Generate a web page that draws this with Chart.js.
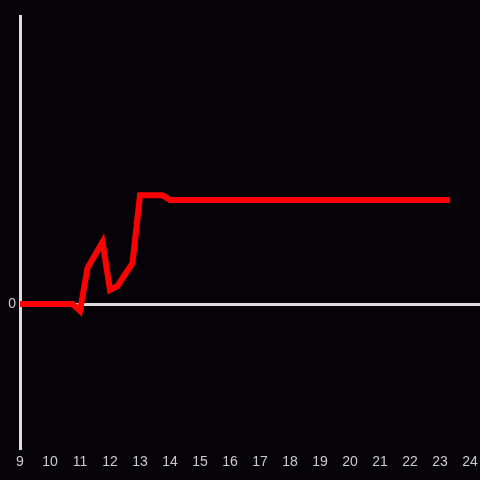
<!DOCTYPE html>
<html>
<head>
<meta charset="utf-8">
<script src="https://cdn.jsdelivr.net/npm/chart.js@4"></script>
<style>
html,body{margin:0;padding:0;background:#050307;}
#wrap{width:480px;height:480px;position:relative;}
</style>
</head>
<body>
<div id="wrap"><canvas id="c" width="480" height="480"></canvas></div>
<script>
const hours = [9, 10.75, 11.0, 11.25, 11.75, 12.0, 12.25, 12.75, 13.0, 13.75, 14.0, 15, 16, 17, 18, 19, 20, 21, 22, 23, 23.33];
const values = [0, 0, -2.4, 12.5, 21.5, 4.9, 6.3, 14.2, 37.8, 37.8, 36.1, 36.1, 36.1, 36.1, 36.1, 36.1, 36.1, 36.1, 36.1, 36.1, 36.1];
const xTickLabels = [9,10,11,12,13,14,15,16,17,18,19,20,21,22,23,24];
const yTickLabels = [0];

const bg = {
  id: 'bg',
  beforeDraw(chart) {
    const c = chart.ctx;
    c.save();
    c.fillStyle = '#050307';
    c.fillRect(0, 0, chart.width, chart.height);
    c.restore();
  }
};

new Chart(document.getElementById('c'), {
  type: 'line',
  data: {
    datasets: [{
      data: hours.map((h, i) => ({x: h, y: values[i]})),
      borderColor: '#ff0000',
      borderWidth: 6,
      pointRadius: 0,
      tension: 0,
      fill: false
    }]
  },
  options: {
    responsive: false,
    animation: false,
    layout: {padding: {top: 16, right: 0, left: 0, bottom: 0}},
    plugins: {legend: {display: false}, tooltip: {enabled: false}},
    scales: {
      x: {
        type: 'linear',
        min: 9,
        max: 24 + 1/3,
        afterBuildTicks(axis) { axis.ticks = xTickLabels.map(v => ({value: v})); },
        afterFit(axis) { axis.height = 32; axis.paddingLeft = 0; axis.paddingRight = 0; },
        grid: {display: false, drawTicks: false},
        border: {display: false},
        ticks: {color: '#cccccc', font: {size: 14, family: 'Liberation Sans, Arial, sans-serif'}, padding: 6, maxRotation: 0, autoSkip: false}
      },
      y: {
        min: -50,
        max: 100,
        afterBuildTicks(axis) { axis.ticks = yTickLabels.map(v => ({value: v})); },
        afterFit(axis) { axis.width = 20; axis.paddingTop = 0; axis.paddingBottom = 0; },
        grid: {color: '#dddddd', lineWidth: 3, drawTicks: false},
        border: {display: true, color: '#dddddd', width: 3},
        ticks: {color: '#cccccc', font: {size: 14, family: 'Liberation Sans, Arial, sans-serif'}, padding: 4}
      }
    }
  },
  plugins: [bg]
});
</script>
</body>
</html>
